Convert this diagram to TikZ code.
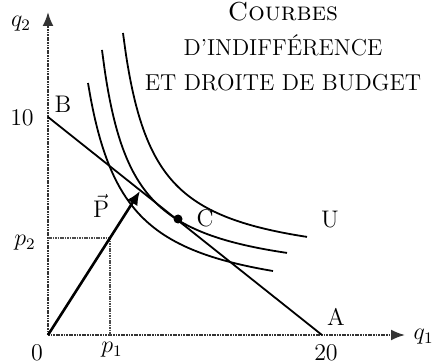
\documentclass[tikz,border=0pt]{standalone}
\usetikzlibrary{arrows.meta,calc}

\begin{document}
\begin{tikzpicture}[x=0.5pt, y=-0.5pt,
    axis/.style={line width=1pt, black!80, dash pattern=on 0.9pt off 0.4pt, -{Latex[length=7pt,width=5.5pt]}},
    guide/.style={line width=0.7pt, black!70, dash pattern=on 0.8pt off 0.4pt},
    curve/.style={line width=0.9pt},
    lbl/.style={font=\fontsize{12}{14}\selectfont, inner sep=0pt}]
    \useasboundingbox (0,0) rectangle (433,363);

    % Axes (pixel-like coordinates, y pointing down)
    \coordinate (O) at (48,335);
    \coordinate (Ytop) at (48,12);
    \coordinate (Xend) at (405,335);
    \draw[axis] (O) -- (Ytop);
    \draw[axis] (O) -- (Xend);

    % Budget line from B to A
    \coordinate (B) at (48,117);
    \coordinate (A) at (322,335);
    \draw[curve] (B) -- (A);

    % Indifference curves y = y0 - k/(x - x0): inner, middle (tangent at C), outer U
    \foreach \xs/\xe/\xa/\ya/\k in {88/273/51.2/308.4/8294, 102/287/73.2/284.5/6755, 123/307/93.3/269.8/7033} {
      \draw[curve, domain=\xs:\xe, samples=60, smooth] plot (\x, {\ya - \k/(\x-\xa)});
    }

    % Price vector and its projections
    \coordinate (Pt) at (140,191);
    \coordinate (Q) at ($(O)!0.674!(Pt)$);
    \coordinate (Qy) at (O |- Q);
    \coordinate (Qx) at (Q |- O);
    \draw[guide] (Qy) -- (Q) -- (Qx);
    \draw[line width=1.3pt, -{Latex[length=7pt,width=6pt]}] (O) -- (Pt);

    % Optimum
    \node[circle, fill, inner sep=0pt, minimum size=4.5pt] (C) at (178,219) {};

    % Labels
    \node[lbl] (q2) at (21,24) {$q_2$};
    \node[lbl] (ten) at (22,118) {$10$};
    \node[lbl] (lB) at (63,104) {B};
    \node[lbl] (lp2) at (25,243) {$p_2$};
    \node[lbl] (zero) at (37,353) {$0$};
    \node[lbl] (lp1) at (112,350) {$p_1$};
    \node[lbl] (twenty) at (326,353) {$20$};
    \node[lbl] (lA) at (336,317) {A};
    \node[lbl, anchor=east] (q1) at (434,337) {$q_1$};
    \node[lbl] (lU) at (330,220) {U};
    \node[lbl] (lC) at (205,218) {C};
    \node[lbl] (lP) at (101,206) {$\vec{\mathrm{P}}$};

    % Title
    \node[align=center, anchor=north, inner sep=0pt, font=\fontsize{11.5}{17.5}\selectfont] (title) at (283,2)
      {{\fontsize{13}{15}\selectfont\textsc{Courbes}}\\ D'INDIFFÉRENCE\\ ET DROITE DE BUDGET};
\end{tikzpicture}
\end{document}
